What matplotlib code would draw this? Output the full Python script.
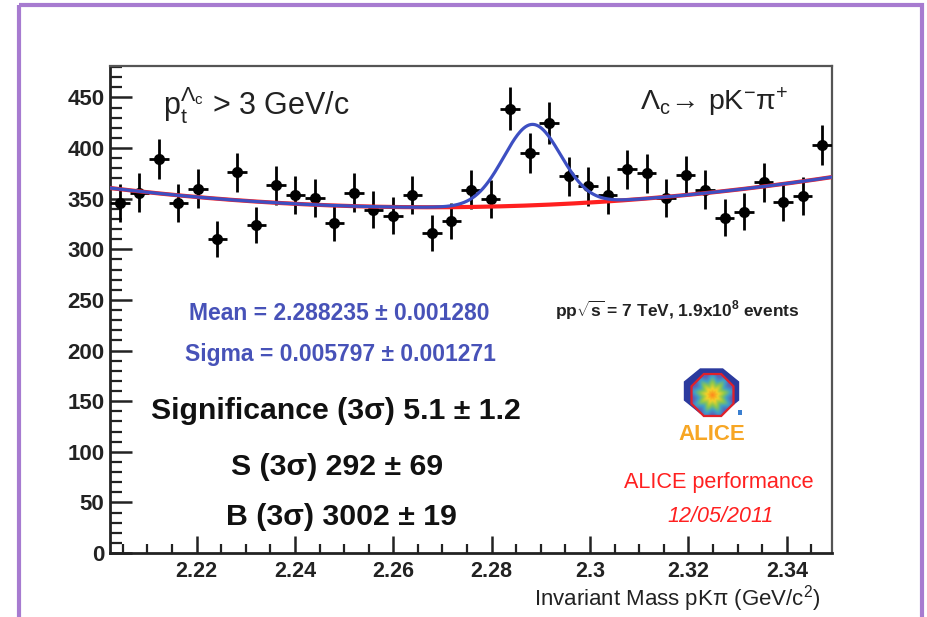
import numpy as np
import matplotlib
matplotlib.use("Agg")
import matplotlib.pyplot as plt
from matplotlib.patches import Polygon, Rectangle
from matplotlib.colors import LinearSegmentedColormap
from matplotlib.ticker import MultipleLocator, FuncFormatter

plt.rcParams['font.family'] = ['Liberation Sans', 'DejaVu Sans']
plt.rcParams['mathtext.fontset'] = 'custom'
plt.rcParams['mathtext.rm'] = 'Liberation Sans'
plt.rcParams['mathtext.it'] = 'Liberation Sans:italic'
plt.rcParams['mathtext.bf'] = 'Liberation Sans:bold'

# ---- pK-pi+ invariant-mass histogram ----
MASS_RANGE = (2.2024, 2.3492)
N_BINS = 37
counts = [346, 356, 389, 346, 360, 310, 376, 324, 363, 354, 351, 326, 356,
          339, 333, 354, 316, 328, 359, 350, 439, 395, 425, 372, 362, 354,
          379, 375, 351, 373, 359, 331, 337, 366, 347, 353, 403]

# ---- fit results (Gaussian signal + 2nd-order polynomial background) ----
FIT_MEAN, FIT_MEAN_ERR = 2.288235, 0.001280
FIT_SIGMA, FIT_SIGMA_ERR = 0.005797, 0.001271
SIGNIFICANCE = (5.1, 1.2)
SIGNAL_3S = (292, 69)
BKG_3S = (3002, 19)
BKG_X0 = 2.2695
BKG_POL2 = (341.5, 17.1, 4476.0)

edges = np.linspace(MASS_RANGE[0], MASS_RANGE[1], N_BINS + 1)
centers = 0.5 * (edges[:-1] + edges[1:])
binw = edges[1] - edges[0]
counts = np.array(counts, dtype=float)

# Gaussian height such that the +-3 sigma integral equals the quoted signal
frac3s = 0.9973
gaus_amp = SIGNAL_3S[0] * binw / (frac3s * FIT_SIGMA * np.sqrt(2 * np.pi))


def background(x):
    t = x - BKG_X0
    return BKG_POL2[0] + BKG_POL2[1] * t + BKG_POL2[2] * t ** 2


def total(x):
    return background(x) + gaus_amp * np.exp(-0.5 * ((x - FIT_MEAN) / FIT_SIGMA) ** 2)


W, H = 928, 617
fig = plt.figure(figsize=(W / 100, H / 100), dpi=100)
fig.patch.set_facecolor('white')

ax_l, ax_r, ax_t, ax_b = 110, 832, 66, 553
ax = fig.add_axes([ax_l / W, 1 - ax_b / H, (ax_r - ax_l) / W, (ax_b - ax_t) / H])

ax.errorbar(centers, counts, yerr=np.sqrt(counts), xerr=binw / 2, fmt='o',
            color='black', ms=7, elinewidth=2.0, capsize=0, zorder=3)

xf = np.linspace(MASS_RANGE[0], MASS_RANGE[1], 800)
ax.plot(xf, background(xf), color='#ff2020', lw=3.0, zorder=4)
ax.plot(xf, total(xf), color='#3d4fc2', lw=2.3, zorder=5)

ax.set_xlim(*MASS_RANGE)
ax.set_ylim(0, 481)

for side in ('left', 'bottom'):
    ax.spines[side].set_linewidth(2.0)
    ax.spines[side].set_color('#222222')
for side in ('top', 'right'):
    ax.spines[side].set_linewidth(1.6)
    ax.spines[side].set_color('#555555')

ax.yaxis.set_major_locator(MultipleLocator(50))
ax.yaxis.set_minor_locator(MultipleLocator(10))
ax.xaxis.set_major_locator(MultipleLocator(0.02))
ax.xaxis.set_minor_locator(MultipleLocator(0.005))
ax.xaxis.set_major_formatter(FuncFormatter(lambda v, p: f"{v:g}"))
ax.yaxis.set_major_formatter(FuncFormatter(lambda v, p: f"{v:g}"))

ax.tick_params(axis='y', which='major', direction='in', length=16, width=1.8,
               pad=4, labelsize=16, colors='#222222')
ax.tick_params(axis='y', which='minor', direction='in', length=8.5, width=1.6,
               colors='#222222')
ax.tick_params(axis='x', which='major', direction='in', length=12, width=1.8,
               pad=6, labelsize=15.5, colors='#222222')
ax.tick_params(axis='x', which='minor', direction='in', length=6.5, width=1.6,
               colors='#222222')
for lab in ax.get_xticklabels() + ax.get_yticklabels():
    lab.set_fontweight('bold')

ax.set_xlabel(r"Invariant Mass pK$\mathrm{\pi}$ (GeV/c$^{2}$)", fontsize=16,
              ha='right', va='baseline', color='#222222')
ax.xaxis.set_label_coords((820 - ax_l) / (ax_r - ax_l), -(605 - ax_b) / (ax_b - ax_t))

# ---- overlay in pixel coordinates for the frame, annotations and logo ----
ov = fig.add_axes([0, 0, 1, 1])
ov.set_xlim(0, W)
ov.set_ylim(H, 0)
ov.set_facecolor('none')
ov.axis('off')

ov.add_patch(Rectangle((19, 5), 903.5, 640, fill=False, lw=3.0,
                       edgecolor='#a77bd0', clip_on=False))

ov.text(163, 115, r"$\mathrm{p}_{\mathrm{t}}^{\Lambda_{\mathrm{c}}}$ > 3 GeV/c",
        fontsize=22, va='baseline', ha='left', color='#222222')
ov.text(640, 110, r"$\Lambda_{\mathrm{c}}\!\rightarrow\,\mathrm{pK}^{-}\mathrm{\pi}^{+}$",
        fontsize=20.5, va='baseline', ha='left', color='#222222')

blue_txt = '#4752b8'
ov.text(339, 320, f"Mean = {FIT_MEAN:.6f} \u00b1 {FIT_MEAN_ERR:.6f}",
        fontsize=16.5, fontweight='bold', color=blue_txt, ha='center', va='baseline')
ov.text(340, 361, f"Sigma = {FIT_SIGMA:.6f} \u00b1 {FIT_SIGMA_ERR:.6f}",
        fontsize=16.5, fontweight='bold', color=blue_txt, ha='center', va='baseline')

ov.text(336, 419, f"Significance (3\u03c3) {SIGNIFICANCE[0]} \u00b1 {SIGNIFICANCE[1]}",
        fontsize=21.8, fontweight='bold', color='#111111', ha='center', va='baseline')
ov.text(337, 475, f"S (3\u03c3) {SIGNAL_3S[0]} \u00b1 {SIGNAL_3S[1]}",
        fontsize=21.8, fontweight='bold', color='#111111', ha='center', va='baseline')
ov.text(341, 525, f"B (3\u03c3) {BKG_3S[0]} \u00b1 {BKG_3S[1]}",
        fontsize=21.8, fontweight='bold', color='#111111', ha='center', va='baseline')

ov.text(555, 317, r"pp$\mathbf{\sqrt{s}}$ = 7 TeV, 1.9x10$^{\mathbf{8}}$ events",
        fontsize=12.5, fontweight='bold', color='#222222', ha='left', va='baseline')

# ALICE logo: magnet octagon, detector octagon with tracks, name
def octagon(cx, cy, rx, ry):
    ang = np.deg2rad(22.5 + 45 * np.arange(8))
    return np.column_stack([cx + rx * np.cos(ang) / np.cos(np.deg2rad(22.5)),
                            cy + ry * np.sin(ang) / np.cos(np.deg2rad(22.5))])

ov.add_patch(Polygon(octagon(711.5, 391, 27, 22), closed=True,
                     facecolor='#2b3a9e', edgecolor='#2b3a9e'))
inner = Polygon(octagon(712.5, 395, 21, 21), closed=True,
                facecolor='none', edgecolor='#e0202a', lw=1.6, zorder=3)
ov.add_patch(inner)
gx, gy = np.meshgrid(np.linspace(-1, 1, 80), np.linspace(-1, 1, 80))
rr = np.hypot(gx, gy)
th = np.arctan2(gy, gx)
pattern = np.clip(rr + 0.12 * np.sin(9 * th) * rr, 0, 1)
cmap = LinearSegmentedColormap.from_list(
    'det', ['#ff8a1c', '#f2d22a', '#8cc84e', '#3fa0c8', '#5a64b8'])
im = ov.imshow(pattern, cmap=cmap, extent=(691, 734, 417, 373), zorder=2,
               interpolation='bilinear')
im.set_clip_path(Polygon(octagon(712.5, 395, 21, 21), closed=True,
                         transform=ov.transData))
ov.add_patch(Rectangle((738, 410), 4, 5, facecolor='#3a7fd0', edgecolor='none'))
ov.text(712, 440, "ALICE", fontsize=16, fontweight='bold', color='#f7a624',
        ha='center', va='baseline')

ov.text(624, 488, "ALICE performance", fontsize=15.6, color='#ff2020',
        ha='left', va='baseline')
ov.text(721, 522, "12/05/2011", fontsize=15.5, style='italic', color='#ff2020',
        ha='center', va='baseline')

fig.savefig('out.png', dpi=100, facecolor='white')
